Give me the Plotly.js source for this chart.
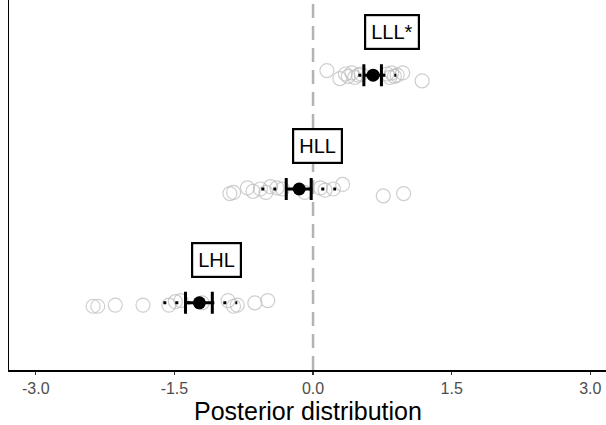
<!DOCTYPE html>
<html>
<head>
<meta charset="utf-8">
<script src="https://cdn.plot.ly/plotly-3.0.1.min.js"></script>
<style>html,body{margin:0;padding:0;background:#fff;}#chart{width:606px;height:425px;}</style>
</head>
<body>
<div id="chart"></div>
<script>
// Groups (bottom to top)
const groups = ["LHL", "HLL", "LLL*"];
const groupPos = [1, 2, 3];

// Posterior draws (grey circles) per group, with small vertical jitter
const drawsLHL = [-2.38, -2.33, -2.14, -1.84, -1.56, -1.49, -1.43, -1.20, -0.92, -0.86, -0.82, -0.63, -0.49];
const jitterLHL = [-0.03, -0.03, -0.02, -0.02, -0.02, 0.01, 0.02, 0.0, 0.02, -0.03, -0.02, 0.0, 0.02];
const drawsHLL = [-0.90, -0.86, -0.71, -0.65, -0.57, -0.51, -0.46, -0.39, -0.33, -0.09, 0.08, 0.13, 0.22, 0.32, 0.76, 0.98];
const jitterHLL = [-0.04, -0.03, 0.01, -0.02, 0.0, -0.03, 0.02, 0.01, 0.0, -0.03, 0.01, -0.01, 0.0, 0.04, -0.06, -0.04];
const drawsLLL = [0.15, 0.29, 0.35, 0.38, 0.42, 0.45, 0.49, 0.52, 0.80, 0.83, 0.85, 0.88, 0.91, 0.97, 1.18];
const jitterLLL = [0.04, -0.03, 0.01, -0.01, 0.02, -0.02, 0.0, 0.01, 0.01, -0.02, 0.02, -0.01, 0.0, 0.02, -0.05];

// Summary statistics: mean, inner (thick) interval, outer (dotted) interval
const means = [-1.23, -0.15, 0.65];
const innerLo = [-1.38, -0.29, 0.55];
const innerHi = [-1.09, -0.02, 0.74];
const outerLo = [-1.62, -0.56, 0.49];
const outerHi = [-0.82, 0.25, 0.90];

// Label positions
const labelX = [-1.04, 0.05, 0.85];
const labelOffset = 0.375;

const tickVals = [-3.0, -1.5, 0.0, 1.5, 3.0];
const tickText = ["-3.0", "-1.5", "0.0", "1.5", "3.0"];
const xTitle = "Posterior distribution";

const FONT = "Liberation Sans, Arial, sans-serif";
const traces = [];

const draws = [drawsLHL, drawsHLL, drawsLLL];
const jit = [jitterLHL, jitterHLL, jitterLLL];
for (let g = 0; g < 3; g++) {
  traces.push({
    type: "scatter", mode: "markers",
    x: draws[g], y: jit[g].map(j => groupPos[g] + j),
    marker: {symbol: "circle-open", size: 14, color: "rgba(190,190,190,0.75)", line: {width: 1.2}},
    hoverinfo: "skip", showlegend: false
  });
}
for (let g = 0; g < 3; g++) {
  traces.push({
    type: "scatter", mode: "lines",
    x: [outerLo[g], outerHi[g]], y: [groupPos[g], groupPos[g]],
    line: {color: "#000", width: 3, dash: "3px,9px"},
    hoverinfo: "skip", showlegend: false
  });
}
traces.push({
  type: "scatter", mode: "markers",
  x: means, y: groupPos,
  marker: {size: 13, color: "#000"},
  error_x: {
    type: "data", symmetric: false,
    array: means.map((m, i) => innerHi[i] - m),
    arrayminus: means.map((m, i) => m - innerLo[i]),
    color: "#000", thickness: 3, width: 11
  },
  hoverinfo: "skip", showlegend: false
});

const annotations = groups.map((name, i) => ({
  x: labelX[i], y: groupPos[i] + labelOffset, xref: "x", yref: "y",
  text: name, showarrow: false,
  font: {family: FONT, size: 20, color: "#000"},
  bgcolor: "#fff", bordercolor: "#000", borderwidth: 2.2, borderpad: 5
}));
annotations.push({
  x: 0.5, y: -0.111, xref: "paper", yref: "paper", xanchor: "center", yanchor: "middle",
  text: xTitle, showarrow: false,
  font: {family: FONT, size: 25, color: "#000"}
});

const layout = {
  width: 606, height: 425,
  margin: {l: 9, r: 0, t: 0, b: 55},
  paper_bgcolor: "#fff", plot_bgcolor: "#fff",
  font: {family: FONT},
  xaxis: {
    range: [-3.29, 3.17], tickvals: tickVals, ticktext: tickText,
    showgrid: false, zeroline: false,
    showline: true, linecolor: "#000", linewidth: 1.5,
    ticks: "outside", ticklen: 3, tickcolor: "#333", tickwidth: 1.2,
    tickfont: {family: FONT, size: 16, color: "#4d4d4d"}
  },
  yaxis: {
    range: [0.41, 3.66], showgrid: false, zeroline: false,
    showline: true, linecolor: "#000", linewidth: 1.5,
    showticklabels: false, ticks: ""
  },
  shapes: [{
    type: "line", xref: "x", yref: "paper", x0: 0, x1: 0, y0: 0, y1: 1,
    line: {color: "#b3b3b3", width: 2.5, dash: "14px,8px"}, layer: "below"
  }],
  annotations: annotations
};

Plotly.newPlot("chart", traces, layout, {displayModeBar: false, staticPlot: true});
</script>
</body>
</html>
